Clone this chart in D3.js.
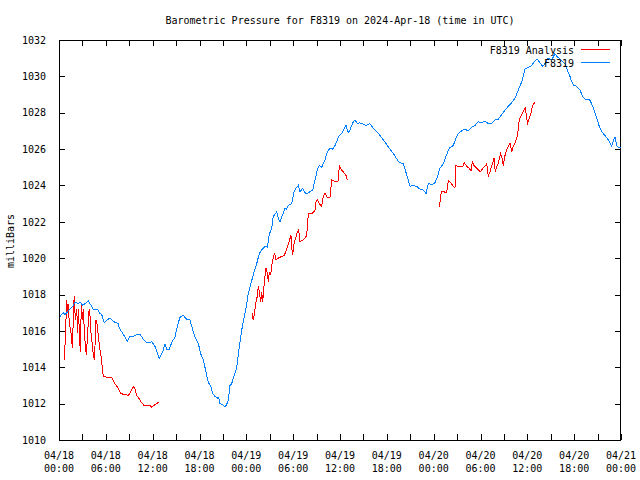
<!DOCTYPE html>
<html>
<head>
<meta charset="utf-8">
<script src="https://cdn.jsdelivr.net/npm/d3@7"></script>
<style>
  html, body { margin: 0; padding: 0; background: #fff; }
  svg { display: block; }
  text { font-family: "DejaVu Sans Mono", "Liberation Mono", monospace; font-size: 10px; fill: #000; }
</style>
</head>
<body>
<svg id="chart" width="640" height="480"></svg>
<script>
// ---- data (hours since 2024-04-18 00:00 UTC, pressure in mb) ----
const titleText = "Barometric Pressure for F8319 on 2024-Apr-18 (time in UTC)";
const yLabel = "milliBars";
const seriesNames = ["F8319 Analysis", "F8319"];
const yTicks = [1010, 1012, 1014, 1016, 1018, 1020, 1022, 1024, 1026, 1028, 1030, 1032];
const xTickDates = ["04/18","04/18","04/18","04/18","04/19","04/19","04/19","04/19","04/20","04/20","04/20","04/20","04/21"];
const xTickTimes = ["00:00","06:00","12:00","18:00","00:00","06:00","12:00","18:00","00:00","06:00","12:00","18:00","00:00"];

const stationHours = [0.13,0.55,0.77,1.19,1.83,2.05,2.47,2.69,3.04,3.75,3.97,4.39,4.91,5.16,5.47,5.80,6.11,6.53,7.05,7.60,7.69,8.03,8.46,8.75,9.10,9.52,9.95,10.38,10.80,11.24,11.88,12.30,12.59,12.85,13.32,13.58,13.80,14.13,14.48,14.86,15.18,15.50,15.92,16.36,16.78,17.00,17.42,17.85,18.15,18.49,18.83,19.13,19.43,19.69,19.98,20.28,20.46,20.63,20.97,21.27,21.48,21.69,21.91,22.12,22.42,22.76,23.10,23.41,23.70,24.05,24.25,24.47,24.89,25.33,25.66,25.97,26.39,26.69,26.94,27.25,27.45,27.89,28.09,28.31,28.66,28.95,29.17,29.37,29.81,30.11,30.36,30.66,30.87,31.22,31.51,31.73,32.15,32.50,32.80,33.09,33.35,33.65,34.08,34.37,34.72,35.06,35.36,35.65,35.91,36.22,36.51,36.77,37.06,37.28,37.63,37.92,38.21,38.47,38.82,39.33,39.84,40.35,40.87,41.38,41.89,42.40,42.92,43.43,43.68,44.11,44.54,44.97,45.39,45.82,46.25,46.67,47.02,47.31,47.75,48.17,48.46,48.81,49.23,49.67,50.00,50.51,50.86,51.15,51.59,52.01,52.43,52.87,53.29,53.72,54.15,54.57,55.00,55.43,55.86,56.28,56.71,57.14,57.56,58.00,58.42,58.84,59.28,59.70,60.12,60.56,60.98,61.27,61.62,61.97,62.26,62.68,63.12,63.54,63.76,64.09,64.40,64.82,65.12,65.46,65.68,65.97,66.32,66.74,67.09,67.51,67.94,68.24,68.54,68.88,69.22,69.52,69.95,70.24,70.59,70.81,71.01,71.23,71.45,71.66,71.96];
const stationValues = [1016.8,1017.0,1016.9,1017.1,1017.4,1017.6,1017.5,1017.6,1017.4,1017.65,1017.5,1017.2,1017.2,1017.0,1016.9,1016.45,1016.6,1016.7,1016.5,1016.4,1016.2,1015.95,1015.65,1015.45,1015.7,1015.7,1015.8,1015.8,1015.55,1015.35,1015.4,1015.15,1014.8,1014.5,1014.9,1015.3,1015.0,1015.0,1015.4,1015.65,1016.3,1016.75,1016.85,1016.65,1016.6,1016.25,1015.65,1015.3,1014.75,1014.4,1013.75,1013.15,1013.0,1012.55,1012.4,1012.3,1012.35,1012.0,1011.95,1011.8,1011.95,1012.2,1013.0,1013.1,1013.5,1013.95,1015.15,1016.05,1016.7,1017.45,1018.05,1018.4,1019.1,1019.7,1020.25,1020.45,1020.65,1020.6,1021.3,1021.65,1022.3,1022.55,1022.2,1022.0,1022.4,1022.75,1022.7,1022.9,1023.0,1023.65,1023.85,1024.0,1023.65,1023.85,1023.6,1023.55,1023.65,1023.75,1024.3,1024.85,1025.1,1025.0,1025.4,1025.85,1026.05,1026.0,1026.2,1026.5,1026.75,1026.85,1027.1,1027.3,1026.9,1027.05,1027.45,1027.6,1027.4,1027.45,1027.4,1027.3,1027.4,1027.1,1026.9,1026.6,1026.3,1026.0,1025.7,1025.35,1025.25,1025.2,1024.6,1023.95,1024.0,1023.95,1023.8,1023.75,1023.55,1024.1,1024.05,1024.15,1024.45,1024.95,1025.2,1025.7,1026.05,1026.2,1026.6,1026.85,1027.0,1027.1,1027.0,1027.2,1027.3,1027.5,1027.45,1027.55,1027.4,1027.4,1027.6,1027.65,1027.9,1028.15,1028.35,1028.55,1028.8,1029.25,1029.7,1030.4,1030.5,1030.6,1030.85,1030.95,1030.75,1030.55,1030.7,1031.0,1030.9,1031.25,1031.1,1031.0,1030.85,1030.7,1030.35,1030.0,1029.7,1029.5,1029.45,1029.25,1028.9,1028.7,1028.75,1028.5,1028.15,1027.7,1027.25,1026.95,1026.75,1026.6,1026.35,1026.15,1026.45,1026.65,1026.2,1026.1,1026.1];

// analysis series: null marks a gap between segments
const analysisHours = [0.68,0.77,0.99,1.11,1.19,1.32,1.54,1.63,1.76,1.83,1.96,2.09,2.27,2.40,2.47,2.60,2.73,2.86,2.98,3.11,3.24,3.37,3.50,3.68,3.80,3.93,4.06,4.19,4.32,4.52,4.65,4.74,4.91,5.09,5.25,5.42,5.55,5.68,6.11,6.75,7.17,7.60,7.90,8.46,8.88,9.19,9.52,9.74,9.95,10.29,10.59,10.89,11.24,11.66,11.88,12.17,12.52,12.85,
  18.0,
  24.72,24.89,25.02,25.24,25.40,25.53,25.66,25.84,25.97,26.10,26.26,26.39,26.52,26.69,26.81,26.94,27.12,27.25,27.45,27.63,27.80,28.09,28.53,28.86,29.17,29.50,29.72,29.89,30.02,30.14,30.36,30.53,30.71,30.87,31.22,31.51,31.73,31.94,32.25,32.58,32.80,32.92,33.09,33.35,33.65,33.86,34.08,34.37,34.72,34.93,35.23,35.58,35.78,35.91,36.22,36.51,36.77,36.93,
  42.0,
  48.72,48.81,48.98,49.32,49.67,49.87,50.09,50.44,50.73,50.86,51.15,51.46,51.72,51.92,52.23,52.56,52.78,52.95,53.16,53.51,53.84,54.02,54.28,54.57,54.79,55.00,55.21,55.43,55.73,55.89,56.07,56.33,56.58,56.75,56.92,57.14,57.35,57.56,57.78,57.99,58.20,58.42,58.64,58.84,58.97,59.28,59.57,59.74,59.92,60.04,60.25,60.43,60.59,60.76,61.02];
const analysisValues = [1014.4,1015.2,1017.7,1017.0,1017.5,1016.4,1015.9,1015.4,1015.05,1017.25,1017.9,1016.6,1017.2,1015.9,1017.2,1016.05,1014.85,1017.4,1016.6,1017.2,1016.05,1015.2,1014.7,1015.9,1017.0,1017.2,1016.05,1015.6,1014.95,1014.4,1015.5,1016.6,1016.3,1015.5,1014.95,1014.5,1013.95,1013.5,1013.45,1013.45,1013.1,1012.85,1012.55,1012.5,1012.45,1012.65,1012.95,1012.8,1012.45,1012.25,1012.05,1011.9,1011.9,1011.9,1011.8,1011.9,1012.0,1012.1,
  null,
  1017.0,1016.6,1016.9,1017.6,1017.9,1018.45,1018.15,1017.6,1018.15,1017.6,1018.45,1019.0,1019.45,1019.2,1018.7,1019.2,1019.1,1019.6,1020.0,1020.3,1019.9,1020.0,1020.1,1020.15,1020.5,1020.95,1021.25,1020.2,1020.4,1020.9,1021.15,1021.45,1021.55,1020.9,1021.0,1021.1,1021.25,1022.45,1022.45,1022.5,1022.65,1023.1,1023.2,1023.0,1022.85,1023.4,1023.55,1023.35,1023.35,1024.3,1024.25,1024.2,1024.25,1025.1,1024.85,1024.7,1024.55,1024.3,
  null,
  1022.8,1023.1,1023.65,1023.65,1023.6,1024.25,1024.2,1024.0,1023.85,1025.1,1025.05,1025.05,1025.05,1025.25,1025.05,1024.95,1024.8,1025.3,1025.1,1024.95,1024.8,1024.75,1024.95,1025.05,1025.2,1024.5,1024.75,1025.05,1025.5,1024.75,1025.0,1025.3,1025.75,1025.5,1025.1,1025.65,1025.95,1026.15,1026.35,1025.85,1026.15,1026.35,1026.6,1027.05,1027.65,1027.9,1028.15,1028.25,1027.7,1027.45,1027.7,1027.9,1028.25,1028.45,1028.6];

const colors = { analysis: "#ff0000", station: "#0080ff" };

// ---- chart ----
const svg = d3.select("#chart");
const margin = { left: 59, right: 19, top: 40, bottom: 40 };
const W = 640, H = 480;
const t0 = Date.UTC(2024, 3, 18, 0, 0);
const toDate = h => new Date(t0 + h * 3600e3);

const x = d3.scaleUtc()
  .domain([toDate(0), toDate(72)])
  .range([margin.left, W - margin.right]);
const y = d3.scaleLinear()
  .domain([1010, 1032])
  .range([H - margin.bottom, margin.top]);

const stationData = stationHours.map((h, i) => ({ t: toDate(h), v: stationValues[i] }));
const analysisData = analysisHours.map((h, i) => ({ t: toDate(h), v: analysisValues[i] }));

const line = d3.line()
  .defined(d => d.v != null)
  .x(d => x(d.t))
  .y(d => y(d.v));

// title (centred over the plot area)
svg.append("text")
  .attr("x", (margin.left + W - margin.right) / 2).attr("y", 24)
  .attr("text-anchor", "middle")
  .text(titleText);

// y label
svg.append("text")
  .attr("transform", "translate(14,241) rotate(-90)")
  .attr("text-anchor", "middle")
  .text(yLabel);

// ticks (inward, gnuplot style)
const tickLen = 6;
const hour3 = d3.utcHour.every(3).range(toDate(0), toDate(72.01));

const gAxes = svg.append("g");
gAxes.append("g")
  .attr("transform", `translate(0,${H - margin.bottom})`)
  .call(d3.axisBottom(x).tickValues(hour3).tickSize(-tickLen).tickFormat(""))
  .call(g => g.select(".domain").remove());
gAxes.append("g")
  .attr("transform", `translate(0,${margin.top})`)
  .call(d3.axisTop(x).tickValues(hour3).tickSize(-tickLen).tickFormat(""))
  .call(g => g.select(".domain").remove());
gAxes.append("g")
  .attr("transform", `translate(${margin.left},0)`)
  .call(d3.axisLeft(y).tickValues(yTicks).tickSize(-tickLen).tickPadding(tickLen + 7).tickFormat(d3.format("d")))
  .call(g => g.select(".domain").remove())
  .call(g => g.selectAll("text").attr("font-size", 10).attr("font-family", "DejaVu Sans Mono"));
gAxes.append("g")
  .attr("transform", `translate(${W - margin.right},0)`)
  .call(d3.axisRight(y).tickValues(yTicks).tickSize(-tickLen).tickFormat(""))
  .call(g => g.select(".domain").remove());
gAxes.selectAll(".tick line").attr("stroke", "#000").attr("shape-rendering", "crispEdges");

// x tick labels (two lines)
const xLabelG = svg.append("g");
xTickDates.forEach((d, i) => {
  const px = x(toDate(i * 6));
  const t = xLabelG.append("text").attr("text-anchor", "middle");
  t.append("tspan").attr("x", px).attr("y", 459).text(d);
  t.append("tspan").attr("x", px).attr("y", 472).text(xTickTimes[i]);
});

// frame
svg.append("rect")
  .attr("x", margin.left + 0.5).attr("y", margin.top + 0.5)
  .attr("width", W - margin.left - margin.right - 1)
  .attr("height", H - margin.top - margin.bottom)
  .attr("fill", "none").attr("stroke", "#000")
  .attr("shape-rendering", "crispEdges");

// series
svg.append("path")
  .datum(analysisData)
  .attr("fill", "none")
  .attr("stroke", colors.analysis)
  .attr("stroke-width", 1)
  .attr("shape-rendering", "crispEdges")
  .attr("d", line);
svg.append("path")
  .datum(stationData)
  .attr("fill", "none")
  .attr("stroke", colors.station)
  .attr("stroke-width", 1)
  .attr("shape-rendering", "crispEdges")
  .attr("d", line);

// legend
const legend = svg.append("g");
[[seriesNames[0], colors.analysis, 50], [seriesNames[1], colors.station, 63]].forEach(([name, c, ly]) => {
  legend.append("text").attr("x", 574).attr("y", ly + 4).attr("text-anchor", "end").text(name);
  legend.append("line").attr("x1", 581).attr("x2", 610).attr("y1", ly - 0.5).attr("y2", ly - 0.5)
    .attr("stroke", c).attr("stroke-width", 1);
});
</script>
</body>
</html>
